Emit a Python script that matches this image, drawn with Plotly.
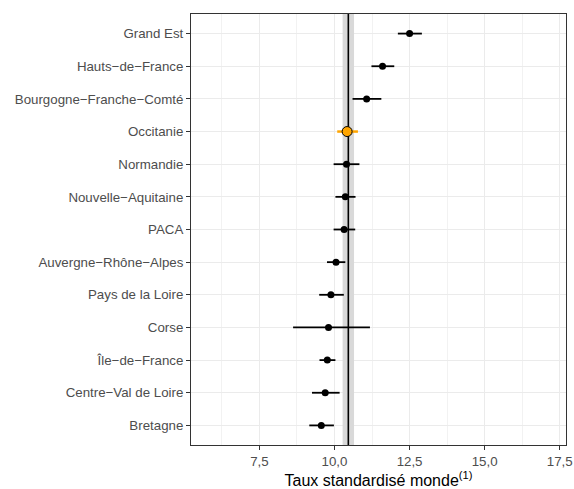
import plotly.graph_objects as go

regions = ["Grand Est", "Hauts\u2212de\u2212France", "Bourgogne\u2212Franche\u2212Comté", "Occitanie",
           "Normandie", "Nouvelle\u2212Aquitaine", "PACA", "Auvergne\u2212Rhône\u2212Alpes",
           "Pays de la Loire", "Corse", "Île\u2212de\u2212France", "Centre\u2212Val de Loire", "Bretagne"]
taux = [12.50, 11.60, 11.07, 10.42, 10.40, 10.36, 10.32, 10.05, 9.88, 9.80, 9.76, 9.69, 9.56]
ic_bas = [12.11, 11.23, 10.60, 10.09, 9.97, 10.03, 9.97, 9.75, 9.49, 8.62, 9.50, 9.25, 9.16]
ic_haut = [12.91, 11.99, 11.56, 10.78, 10.83, 10.70, 10.69, 10.36, 10.31, 11.18, 10.03, 10.17, 9.98]
highlight = "Occitanie"

france_taux = 10.46
france_bas = 10.27
france_haut = 10.65

x_ticks = [7.5, 10.0, 12.5, 15.0, 17.5]

n = len(regions)
ypos = [n - i for i in range(n)]          # top category highest
y_lo, y_hi = 1 - 0.6, n + 0.6              # discrete-axis expansion

fig = go.Figure()

# reference band and line spanning the full panel height
fig.add_trace(go.Scatter(
    x=[france_bas, france_haut, france_haut, france_bas, france_bas],
    y=[y_lo, y_lo, y_hi, y_hi, y_lo],
    mode="lines", fill="toself", fillcolor="#D9D9D9",
    line=dict(width=0, color="#D9D9D9"), showlegend=False, hoverinfo="skip"))
fig.add_trace(go.Scatter(
    x=[france_taux, france_taux], y=[y_lo, y_hi], mode="lines",
    line=dict(color="black", width=1.6), showlegend=False, hoverinfo="skip"))

idx_n = [i for i, r in enumerate(regions) if r != highlight]
idx_h = [i for i, r in enumerate(regions) if r == highlight]

fig.add_trace(go.Scatter(
    x=[taux[i] for i in idx_n], y=[ypos[i] for i in idx_n], mode="markers",
    marker=dict(color="black", size=7),
    error_x=dict(type="data", symmetric=False,
                 array=[ic_haut[i] - taux[i] for i in idx_n],
                 arrayminus=[taux[i] - ic_bas[i] for i in idx_n],
                 color="black", thickness=1.8, width=0),
    showlegend=False, hoverinfo="skip"))

fig.add_trace(go.Scatter(
    x=[taux[i] for i in idx_h], y=[ypos[i] for i in idx_h], mode="markers",
    marker=dict(color="#FFA500", size=10, line=dict(color="black", width=1)),
    error_x=dict(type="data", symmetric=False,
                 array=[ic_haut[i] - taux[i] for i in idx_h],
                 arrayminus=[taux[i] - ic_bas[i] for i in idx_h],
                 color="#FFA500", thickness=2.5, width=0),
    showlegend=False, hoverinfo="skip"))

fig.update_layout(
    width=574, height=489,
    margin=dict(l=191, r=8, t=14, b=44),
    paper_bgcolor="white", plot_bgcolor="white",
    separators=", ",
    font=dict(family="Liberation Sans, Arial, sans-serif", size=13, color="#4D4D4D"),
)

fig.update_xaxes(
    range=[5.22, 17.71], tickvals=x_ticks, tickformat=".1f",
    automargin=False,
    showgrid=True, gridcolor="#EBEBEB", gridwidth=1.1,
    minor=dict(dtick=1.25, tick0=0, showgrid=True, gridcolor="#F2F2F2", gridwidth=0.6, ticks=""),
    showline=True, mirror=True, linecolor="#333333", linewidth=1,
    ticks="outside", ticklen=4, tickcolor="#333333", tickwidth=1,
    zeroline=False,
    tickfont=dict(size=13.3, color="#4D4D4D"),
    title=dict(text="Taux standardisé monde<sup>(1)</sup>", font=dict(size=16, color="black"), standoff=1),
)
fig.update_yaxes(
    range=[y_lo, y_hi], tickvals=ypos, ticktext=regions,
    automargin=False,
    showgrid=True, gridcolor="#EBEBEB", gridwidth=1.1,
    showline=True, mirror=True, linecolor="#333333", linewidth=1,
    ticks="outside", ticklen=4, tickcolor="#333333", tickwidth=1,
    zeroline=False,
    tickfont=dict(size=13.3, color="#4D4D4D"),
)

post = ("document.documentElement.style.overflow='hidden';"
        "document.body.style.overflow='hidden';"
        "document.body.style.margin='0';document.body.style.padding='0';")
fig.write_html("out.html", config={"displayModeBar": False, "responsive": False}, post_script=post)
